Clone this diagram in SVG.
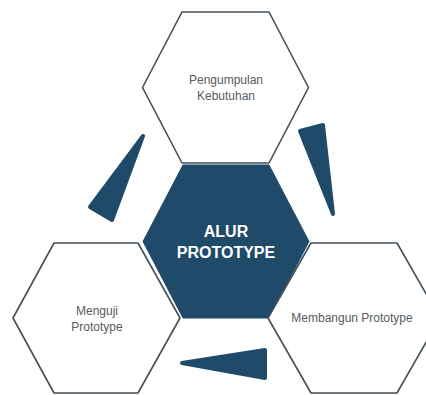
<svg xmlns="http://www.w3.org/2000/svg" width="426" height="395" viewBox="0 0 426 395">
<style>
.hex{fill:#ffffff;stroke:#444f59;stroke-width:1.6;stroke-linejoin:round}
.core{fill:#1f4a6a;stroke:#1f4a6a;stroke-width:1;stroke-linejoin:round}
.tri{fill:#1f4a6a;stroke:#1f4a6a;stroke-width:4;stroke-linejoin:round}
.lbl{font-family:"Liberation Sans",Arial,sans-serif;font-size:12px;fill:#555b61;text-anchor:middle}
.title{font-family:"Liberation Sans",Arial,sans-serif;font-size:16px;font-weight:bold;fill:#ffffff;text-anchor:middle}
</style>
<rect width="426" height="395" fill="#ffffff"/>
<g id="connectors">
<polygon class="tri" points="143,136 90,207 112,220"/>
<polygon class="tri" points="300,131 323,125 333,214"/>
<polygon class="tri" points="182,363 265,350 265,378"/>
</g>
<g id="center">
<polygon class="core" points="143,241.5 183,165 269,165 309,241.5 269,318 183,318"/>
<text class="title" x="226" y="237">ALUR</text>
<text class="title" x="226" y="258">PROTOTYPE</text>
</g>
<g id="pengumpulan">
<polygon class="hex" points="142.5,87.5 182,12 269,12 308.5,87.5 269,163 182,163"/>
<text class="lbl" x="226" y="84">Pengumpulan</text>
<text class="lbl" x="226" y="100">Kebutuhan</text>
</g>
<g id="menguji">
<polygon class="hex" points="13,318 54,243 138,243 180,318 138,393 54,393"/>
<text class="lbl" x="97" y="315">Menguji</text>
<text class="lbl" x="97" y="331">Prototype</text>
</g>
<g id="membangun">
<polygon class="hex" points="268,318 311,243 397,243 440,318 397,393 311,393"/>
<text class="lbl" x="352" y="322">Membangun Prototype</text>
</g>
</svg>
